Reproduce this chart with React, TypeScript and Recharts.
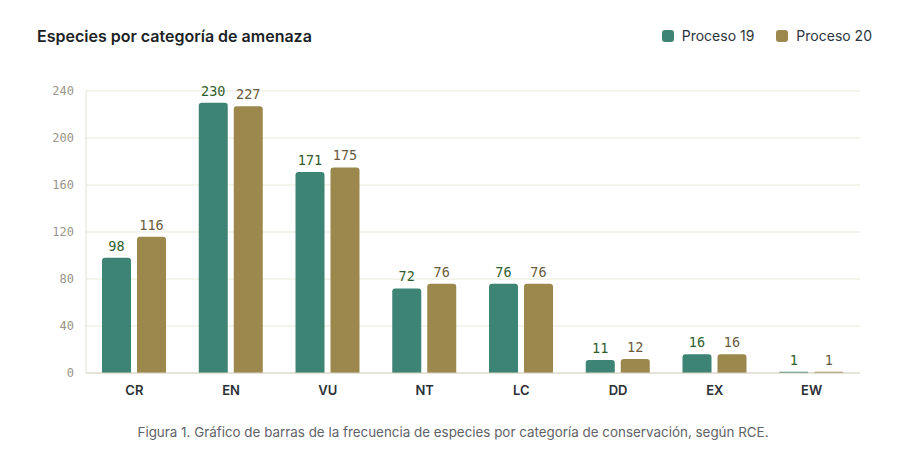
import React from 'react';
import { BarChart, Bar, XAxis, YAxis, CartesianGrid, LabelList } from 'recharts';

const categories = ['CR', 'EN', 'VU', 'NT', 'LC', 'DD', 'EX', 'EW'];
const proceso19 = [98, 230, 171, 72, 76, 11, 16, 1];
const proceso20 = [116, 227, 175, 76, 76, 12, 16, 1];
const yTicks = [0, 40, 80, 120, 160, 200, 240];

const GREEN = '#3d8474';
const GOLD = '#9c884d';

const data = categories.map((cat, i) => ({
    cat,
    p19: proceso19[i],
    p20: proceso20[i],
}));

const sans = '"Inter", "Noto Sans", sans-serif';
const mono = '"DejaVu Sans Mono", monospace';

const legendItems = [
    { name: 'Proceso 19', color: GREEN },
    { name: 'Proceso 20', color: GOLD },
];

export default function App() {
    return (
        <div style={{ position: 'absolute', left: 0, top: 0, width: 906, height: 456, background: '#fff' }}>
            <div
                style={{
                    position: 'absolute',
                    left: 37,
                    top: 26,
                    fontFamily: sans,
                    fontWeight: 600,
                    fontSize: 16,
                    color: '#1c1f26',
                }}
            >
                Especies por categoría de amenaza
            </div>
            <div
                style={{
                    position: 'absolute',
                    right: 34,
                    top: 27,
                    display: 'flex',
                    gap: 22,
                    fontFamily: sans,
                    fontSize: 14,
                    color: '#2b3440',
                }}
            >
                {legendItems.map((it) => (
                    <div key={it.name} style={{ display: 'flex', alignItems: 'center', gap: 8 }}>
                        <span style={{ width: 12, height: 12, borderRadius: 3, background: it.color, display: 'inline-block' }} />
                        <span>{it.name}</span>
                    </div>
                ))}
            </div>
            <div style={{ position: 'absolute', left: 0, top: 0 }}>
                <BarChart
                    width={906}
                    height={456}
                    data={data}
                    margin={{ top: 91, right: 46, left: 36, bottom: 53 }}
                    barSize={29}
                    barGap={6}
                >
                    <CartesianGrid vertical={false} stroke="#e9e7d9" />
                    <XAxis
                        dataKey="cat"
                        height={30}
                        tickLine={false}
                        axisLine={{ stroke: '#d6d4c6' }}
                        tickMargin={7}
                        tick={{ fontFamily: sans, fontSize: 13, fontWeight: 600, fill: '#2b2f36' }}
                    />
                    <YAxis
                        width={50}
                        domain={[0, 240]}
                        ticks={yTicks}
                        tickLine={false}
                        tickSize={0}
                        tickMargin={12}
                        axisLine={{ stroke: '#e2e0d2' }}
                        tick={{ fontFamily: mono, fontSize: 12, fill: '#9a958a' }}
                    />
                    <Bar dataKey="p19" name="Proceso 19" fill={GREEN} radius={[3, 3, 0, 0]} isAnimationActive={false}>
                        <LabelList dataKey="p19" position="top" offset={7} style={{ fontFamily: mono, fontSize: 13.5, fill: '#2f5e2c' }} />
                    </Bar>
                    <Bar dataKey="p20" name="Proceso 20" fill={GOLD} radius={[3, 3, 0, 0]} isAnimationActive={false}>
                        <LabelList dataKey="p20" position="top" offset={7} style={{ fontFamily: mono, fontSize: 13.5, fill: '#6a5a3c' }} />
                    </Bar>
                </BarChart>
            </div>
            <div
                style={{
                    position: 'absolute',
                    left: 0,
                    width: 906,
                    top: 424,
                    textAlign: 'center',
                    fontFamily: sans,
                    fontSize: 13.4,
                    color: '#5f6368',
                }}
            >
                Figura 1. Gráfico de barras de la frecuencia de especies por categoría de conservación, según RCE.
            </div>
        </div>
    );
}
